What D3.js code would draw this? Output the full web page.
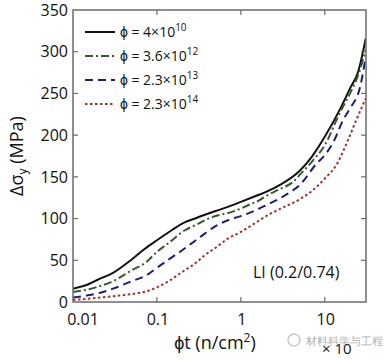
<!DOCTYPE html>
<html><head><meta charset="utf-8">
<script src="https://cdn.jsdelivr.net/npm/d3@7"></script>
<style>body{margin:0;background:#fff}svg{display:block}text{font-family:"Open Sans",sans-serif;fill:#111}</style>
</head><body><svg id="c" width="390" height="361"></svg>
<script>
const xTicks = [0.01, 0.1, 1, 10];
const xTickLabels = ["0.01", "0.1", "1", "10"];
const yTicks = [0, 50, 100, 150, 200, 250, 300, 350];
const seriesNames = ["4", "3.6", "2.3", "2.3"];
const seriesExp = ["10", "12", "13", "14"];
const seriesColors = ["#111111", "#2f5e2a", "#1d1d7c", "#a8302a"];
const seriesDash = [null, "8,3,2,3", "8,5", "2.5,2.5"];

const xBlack = [0.01, 0.015, 0.02, 0.03, 0.05, 0.07, 0.1, 0.15, 0.2, 0.3, 0.5, 0.7, 1, 1.5, 2, 3, 5, 7, 10, 15, 20, 25, 30.8];
const yBlack = [16, 21, 27, 35, 51, 63, 74, 86, 94, 101, 109, 114, 120, 127, 132, 141, 157, 174, 198, 230, 256, 276, 316];
const xGreen = [0.01, 0.015, 0.02, 0.03, 0.05, 0.075, 0.1, 0.143, 0.215, 0.3, 0.41, 0.5, 0.78, 1, 1.22, 1.67, 2, 3, 4.2, 5, 7, 10, 15, 20, 25, 30.8];
const yGreen = [12, 15, 18.5, 25, 38, 48, 60, 72, 86, 93, 100, 103, 108, 112, 116, 122, 127, 136, 144, 152, 168, 188, 226, 250, 272, 302];
const xBlue = [0.01, 0.015, 0.02, 0.03, 0.05, 0.075, 0.1, 0.143, 0.2, 0.3, 0.5, 0.7, 1, 1.5, 2, 3, 4.2, 5, 8, 10, 13, 16.5, 20, 26.4, 30.8];
const yBlue = [5.5, 8, 10.5, 16, 25, 32, 41, 52, 62, 75, 91, 98, 103, 110, 116, 125, 134, 140, 166, 176, 194, 218, 232, 258, 294];
const xRed = [0.01, 0.02, 0.03, 0.05, 0.07, 0.1, 0.143, 0.2, 0.3, 0.37, 0.5, 0.7, 1, 1.5, 2, 3, 5, 7, 10, 13.7, 18.9, 23.7, 30.8];
const yRed = [2.4, 5, 7, 9.5, 12, 17.5, 26, 36, 48, 56, 65, 76, 84, 95, 103, 112, 123, 133, 148, 164, 194, 218, 244];

const seriesX = [xBlack, xGreen, xBlue, xRed];
const seriesY = [yBlack, yGreen, yBlue, yRed];

const svg = d3.select("#c");
const L = 73, R = 366, T = 10, B = 302;
const x = d3.scaleLog().domain([0.01, 31]).range([L, R]);
const y = d3.scaleLinear().domain([0, 350]).range([B, T]);

const axisColor = "#6a6a6a";
const line = d3.line().x(d => x(d[0])).y(d => y(d[1])).curve(d3.curveMonotoneX);
svg.append("clipPath").attr("id", "clp").append("rect")
  .attr("x", L).attr("y", T).attr("width", R - L).attr("height", B - T);
seriesX.forEach((xs, i) => {
  const pts = xs.map((v, j) => [v, seriesY[i][j]]);
  svg.append("path").attr("d", line(pts)).attr("fill", "none")
    .attr("stroke", seriesColors[i]).attr("stroke-width", 2)
    .attr("stroke-dasharray", seriesDash[i]).attr("clip-path", "url(#clp)");
});

svg.append("rect").attr("x", L).attr("y", T).attr("width", R - L).attr("height", B - T)
  .attr("fill", "none").attr("stroke", axisColor).attr("stroke-width", 1.5);

const tickLen = 5;
xTicks.slice(1).forEach(v => {
  svg.append("line").attr("x1", x(v)).attr("x2", x(v)).attr("y1", B).attr("y2", B - tickLen).attr("stroke", axisColor).attr("stroke-width", 1.2);
  svg.append("line").attr("x1", x(v)).attr("x2", x(v)).attr("y1", T).attr("y2", T + tickLen).attr("stroke", axisColor).attr("stroke-width", 1.2);
});
yTicks.slice(1, -1).forEach(v => {
  svg.append("line").attr("x1", L).attr("x2", L + tickLen).attr("y1", y(v)).attr("y2", y(v)).attr("stroke", axisColor).attr("stroke-width", 1.2);
  svg.append("line").attr("x1", R).attr("x2", R - tickLen).attr("y1", y(v)).attr("y2", y(v)).attr("stroke", axisColor).attr("stroke-width", 1.2);
});

xTicks.forEach((v, i) => {
  svg.append("text").attr("x", x(v) + (i === 0 ? 10 : 1)).attr("y", 325)
    .attr("text-anchor", "middle").attr("font-size", 16).text(xTickLabels[i]);
});
yTicks.forEach(v => {
  svg.append("text").attr("x", 68).attr("y", y(v)).attr("dy", "0.36em")
    .attr("text-anchor", "end").attr("font-size", 16).text(v);
});

const yl = svg.append("text").attr("transform", "translate(23,156) rotate(-90)")
  .attr("text-anchor", "middle").attr("font-size", 18);
yl.append("tspan").text("Δσ");
yl.append("tspan").attr("font-size", 12).attr("dy", 4).text("y");
yl.append("tspan").attr("dy", -4).text(" (MPa)");

const xl = svg.append("text").attr("x", 215).attr("y", 349).attr("text-anchor", "middle").attr("font-size", 18);
xl.append("tspan").text("ϕt (n/cm");
xl.append("tspan").attr("font-size", 12).attr("dy", -7).text("2");
xl.append("tspan").attr("dy", 7).text(")");

// exponent remnant and watermark
svg.append("text").attr("x", 322).attr("y", 354).attr("font-size", 15).attr("fill", "#333").text("× 10");
svg.append("circle").attr("cx", 294).attr("cy", 340).attr("r", 6).attr("fill", "none").attr("stroke", "#c8c8c8").attr("stroke-width", 1.5);
svg.append("text").attr("x", 306).attr("y", 345).attr("font-size", 10.5).style("fill", "#b0b0b0")
  .attr("font-family", "Noto Sans CJK SC").text("材料科学与工程");

svg.append("text").attr("x", 253).attr("y", 278).attr("font-size", 16).text("LI (0.2/0.74)");

seriesNames.forEach((n, i) => {
  const ly = 32 + i * 24;
  svg.append("line").attr("x1", 85).attr("x2", 115).attr("y1", ly).attr("y2", ly)
    .attr("stroke", seriesColors[i]).attr("stroke-width", 2).attr("stroke-dasharray", seriesDash[i]);
  const t = svg.append("text").attr("x", 120).attr("y", ly + 5).attr("font-size", 14);
  t.append("tspan").text("ϕ = " + n + "×10");
  t.append("tspan").attr("font-size", 10).attr("dy", -6).text(seriesExp[i]);
});
</script></body></html>
